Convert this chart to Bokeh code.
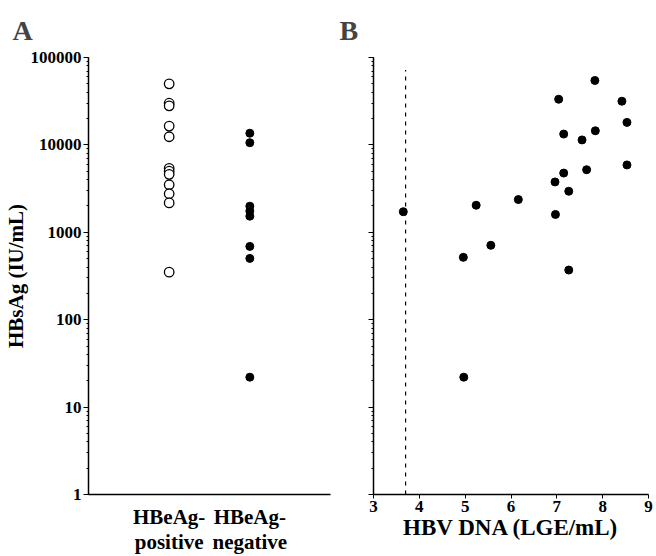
from bokeh.plotting import figure
from bokeh.layouts import row
from bokeh.models import Range1d, FixedTicker, ColumnDataSource
from bokeh.embed import file_html
from bokeh.resources import INLINE

# ---------------- data ----------------
group_labels = ["HBeAg-\npositive", "HBeAg-\nnegative"]
group_pos = [1, 2]

y_tick_vals = [1, 10, 100, 1000, 10000, 100000]
y_tick_labels = ["1", "10", "100", "1000", "10000", "100000"]

hbeag_pos_hbsag = [50000, 30000, 28000, 16400, 12400, 5400, 5000, 4600, 3500, 2760, 2170, 350]
hbeag_neg_hbsag = [13600, 10600, 1990, 1750, 1530, 690, 503, 22]

hbv_dna = [3.65, 5.24, 6.16, 4.96, 5.56, 7.26, 4.97, 6.97, 6.96, 7.15,
           7.26, 7.65, 8.53, 7.15, 7.55, 7.84, 8.53, 7.04, 8.42, 7.83]
hbsag_b = [1720, 2040, 2370, 517, 710, 370, 22, 1600, 3770, 4760,
           2950, 5200, 5900, 13300, 11400, 14500, 18100, 33300, 31600, 54600]

cutoff_x = 3.7
cutoff_top = 72000

x_ticks_b = [3, 4, 5, 6, 7, 8, 9]

FONT = "Liberation Serif"


def style_common(p):
    p.outline_line_color = None
    p.grid.visible = False
    p.background_fill_color = "white"
    p.border_fill_color = "white"
    for ax in p.axis:
        ax.axis_line_color = "black"
        ax.axis_line_width = 1.5
        ax.major_label_text_font = FONT
        ax.major_label_text_font_style = "bold"
        ax.major_label_text_color = "black"
        ax.axis_label_text_font = FONT
        ax.axis_label_text_font_style = "bold"
        ax.axis_label_text_color = "black"
    p.title.text_font = FONT
    p.title.text_font_style = "bold"
    p.title.text_font_size = "28px"
    p.title.text_line_height = 0.8
    p.title.align = "left"
    p.title.vertical_align = "top"
    p.title.standoff = 20


# ---------------- panel A ----------------
pa = figure(width=335, height=556, y_axis_type="log",
            x_range=Range1d(0, 3), y_range=Range1d(1, 100000),
            output_backend="svg", toolbar_location=None,
            min_border_left=88, min_border_right=5,
            min_border_top=57, min_border_bottom=56, title="A")

srcA1 = ColumnDataSource(dict(x=[group_pos[0]] * len(hbeag_pos_hbsag), y=hbeag_pos_hbsag))
srcA2 = ColumnDataSource(dict(x=[group_pos[1]] * len(hbeag_neg_hbsag), y=hbeag_neg_hbsag))
pa.scatter("x", "y", source=srcA1, marker="circle", size=9.5,
           fill_color="white", line_color="black", line_width=1.3)
pa.scatter("x", "y", source=srcA2, marker="circle", size=8,
           fill_color="black", line_color="black")

style_common(pa)
pa.xaxis.ticker = FixedTicker(ticks=group_pos)
pa.xaxis.major_label_overrides = {p: l for p, l in zip(group_pos, group_labels)}
pa.xaxis.major_tick_line_color = None
pa.xaxis.minor_tick_line_color = None
pa.xaxis.major_label_text_font_size = "21px"
pa.xaxis.major_label_text_line_height = 1.05
pa.xaxis.major_label_standoff = 4
pa.yaxis.axis_label = "HBsAg (IU/mL)"
pa.yaxis.axis_label_text_font_size = "21px"
pa.yaxis.axis_label_standoff = 0
pa.yaxis.major_label_overrides = {v: l for v, l in zip(y_tick_vals, y_tick_labels)}
pa.yaxis.major_label_text_font_size = "17px"
pa.yaxis.major_label_standoff = 2
pa.yaxis.major_tick_out = 5
pa.yaxis.major_tick_in = 0
pa.yaxis.minor_tick_out = 2
pa.yaxis.minor_tick_in = 0
pa.title.offset = -76

# ---------------- panel B ----------------
pb = figure(width=321, height=556, y_axis_type="log",
            x_range=Range1d(3, 9), y_range=Range1d(1, 100000),
            output_backend="svg", toolbar_location=None,
            min_border_left=38, min_border_right=8,
            min_border_top=57, min_border_bottom=56, title="B")

srcB = ColumnDataSource(dict(x=hbv_dna, y=hbsag_b))
pb.scatter("x", "y", source=srcB, marker="circle", size=8,
           fill_color="black", line_color="black")
pb.segment(x0=[cutoff_x], y0=[1], x1=[cutoff_x], y1=[cutoff_top],
           line_color="black", line_width=1.2, line_dash="4 5")

style_common(pb)
pb.xaxis.ticker = FixedTicker(ticks=x_ticks_b)
pb.xaxis.major_label_text_font_size = "17px"
pb.xaxis.major_label_standoff = 2
pb.xaxis.major_tick_out = 4
pb.xaxis.major_tick_in = 0
pb.xaxis.axis_label = "HBV DNA (LGE/mL)"
pb.xaxis.axis_label_text_font_size = "23px"
pb.xaxis.axis_label_standoff = 0
pb.yaxis.major_label_text_font_size = "1px"
pb.yaxis.major_label_text_alpha = 0
pb.yaxis.major_tick_out = 5
pb.yaxis.major_tick_in = 0
pb.yaxis.minor_tick_out = 2
pb.yaxis.minor_tick_in = 0
pb.title.offset = -34

layout = row(pa, pb)
open("out.html", "w").write(file_html(layout, INLINE))
